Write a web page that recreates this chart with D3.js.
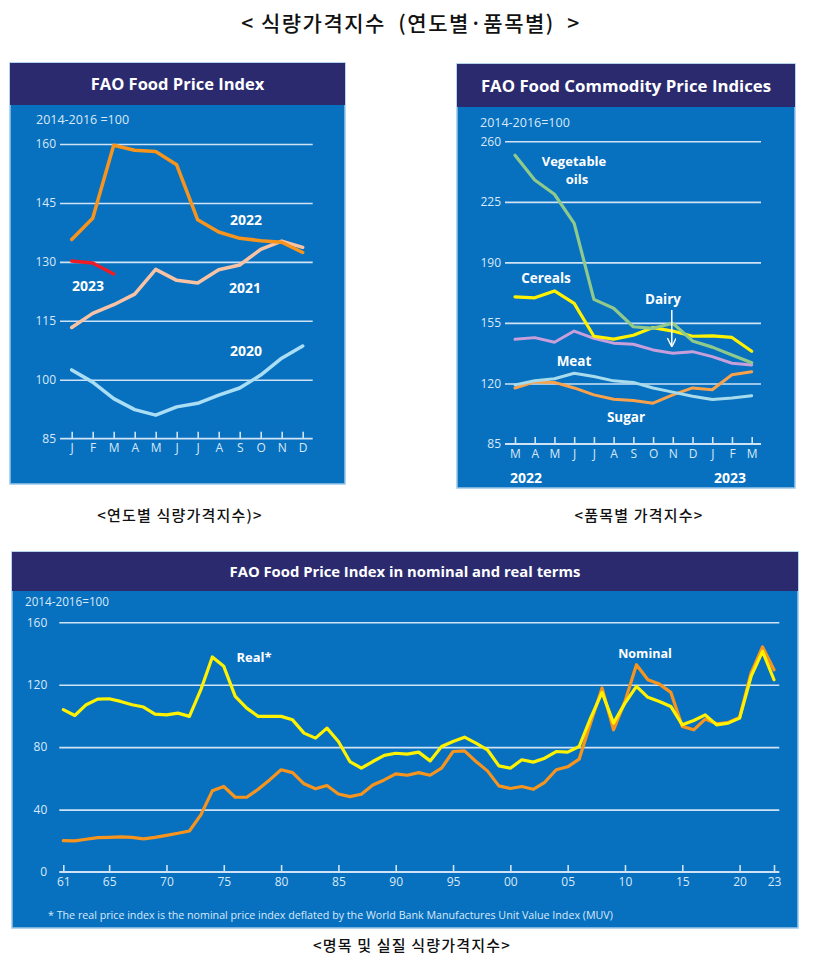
<!DOCTYPE html>
<html><head><meta charset="utf-8">
<script src="https://cdn.jsdelivr.net/npm/d3@7"></script>
<style>body{margin:0;background:#fff}svg{display:block}</style>
</head><body>
<svg id="c" width="819" height="969"></svg>
<script>
// ---------- Data ----------
const monthsA = ["J","F","M","A","M2","J2","J3","A2","S","O","N","D"];
const monthLabelsA = ["J","F","M","A","M","J","J","A","S","O","N","D"];
const y2020 = [102.5,99.4,95.2,92.4,91.0,93.1,94.0,96.1,97.9,101.2,105.5,108.6];
const y2021 = [113.3,116.9,119.1,121.8,128.1,125.3,124.6,128.0,129.2,133.2,135.3,133.7];
const y2022 = [135.7,141.1,159.7,158.4,158.1,154.7,140.7,137.6,136.0,135.4,135.0,132.4];
const y2023 = [130.2,129.7,126.9];
const ticksA = [85,100,115,130,145,160];

const monthsB = ["M","A","M2","J","J2","A2","S","O","N","D","J3","F","M3"];
const monthLabelsB = ["M","A","M","J","J","A","S","O","N","D","J","F","M"];
const vegOils = [252.0,237.6,229.4,212.6,168.6,163.5,152.8,151.9,154.8,144.6,141.0,136.5,132.0];
const cereals = [170.1,169.5,173.5,166.3,147.3,145.6,147.9,152.3,150.3,147.3,147.5,146.6,138.6];
const dairy   = [145.5,146.5,143.8,150.3,146.1,143.3,142.7,139.4,137.5,138.4,135.5,131.7,130.7];
const meat    = [119.2,121.6,122.7,125.9,124.0,121.5,120.6,117.4,115.0,112.6,110.7,111.6,112.9];
const sugar   = [117.4,120.9,120.6,117.4,113.4,110.9,110.1,108.6,113.4,117.4,116.4,125.0,126.8];
const ticksB = [85,120,155,190,225,260];

const years = d3.range(1961, 2024);
const nominal = [20.1,19.9,21.0,22.0,22.2,22.5,22.2,21.2,22.2,23.5,24.8,26.3,36.6,52.0,54.8,47.9,47.9,53.0,59.0,65.5,
  63.7,56.5,53.3,55.4,50.0,48.3,49.8,55.8,59.0,62.9,62.0,63.7,62.0,66.5,77.2,77.6,70.8,64.8,55.2,53.5,
  54.8,53.0,57.5,65.5,67.4,72.3,95.4,117.9,91.1,109.3,132.8,123.2,120.4,115.1,93.3,91.1,98.0,95.0,95.8,99.0,
  127.5,144.2,129.6];
const real = [104.0,100.3,107.2,110.8,111.0,109.3,107.2,105.7,101.2,100.7,101.8,99.7,116.8,137.8,131.8,112.5,105.0,99.7,99.7,99.7,
  97.5,89.0,85.8,92.2,83.6,70.8,66.5,70.8,74.7,76.1,75.5,76.8,71.2,80.4,83.6,86.4,82.6,78.3,68.0,66.5,
  71.9,70.4,72.9,77.2,76.8,80.4,98.6,115.1,95.4,108.2,118.9,111.9,109.3,106.1,94.3,97.1,100.7,94.3,95.4,98.6,
  125.3,141.4,123.2];
const ticksC = [0,40,80,120,160];
const yearTicks = [1961,1965,1970,1975,1980,1985,1990,1995,2000,2005,2010,2015,2020,2023];

// ---------- Styles ----------
const BG = "#0770bf", HEAD = "#2b2a6f", GRID = "#cfe3f5", TXT = "#d9e9f7";
const FONT = "'Open Sans', 'Noto Sans', sans-serif";
const KFONT = "'Noto Sans CJK KR', sans-serif";
const svg = d3.select("#c");

svg.append("text").attr("x", 411).attr("y", 31).attr("text-anchor","middle")
  .attr("font-family", KFONT).attr("font-size", 21).attr("font-weight", 500).attr("fill","#111")
  .attr("letter-spacing", 1.5).attr("xml:space", "preserve")
  .text("< 식량가격지수  (연도별·품목별)  >");

function panel(x, y, w, h, hh, title, fs) {
  svg.append("rect").attr("x", x).attr("y", y).attr("width", w).attr("height", h)
    .attr("fill", BG).attr("stroke", "#9cc7ea").attr("stroke-width", 1.5);
  svg.append("rect").attr("x", x).attr("y", y).attr("width", w).attr("height", hh).attr("fill", HEAD);
  svg.append("text").attr("x", x + w / 2).attr("y", y + hh / 2 + fs * 0.36).attr("text-anchor", "middle")
    .attr("font-family", FONT).attr("font-weight", 700).attr("font-size", fs).attr("fill", "#fff").text(title);
}

function grid(yScale, ticks, x0, x1, labelX, fs) {
  const g = svg.append("g");
  g.append("g").attr("transform", `translate(${x1},0)`)
    .call(d3.axisLeft(yScale).tickValues(ticks).tickSize(x1 - x0).tickPadding(labelX))
    .call(s => s.select(".domain").remove())
    .call(s => s.selectAll("line").attr("stroke", GRID).attr("stroke-width", 1.6))
    .call(s => s.selectAll("text").attr("fill", TXT).attr("font-family", FONT).attr("font-size", fs));
}

function bottomAxis(xScale, vals, fmt, yPos, x0, x1, fs) {
  const g = svg.append("g").attr("transform", `translate(0,${yPos})`);
  g.call(d3.axisTop(xScale).tickValues(vals).tickSize(7).tickFormat(""))
    .call(s => s.select(".domain").remove())
    .call(s => s.selectAll("line").attr("stroke", GRID).attr("stroke-width", 1.6));
  g.append("line").attr("x1", x0).attr("x2", x1).attr("stroke", GRID).attr("stroke-width", 1.8);
  const g2 = svg.append("g").attr("transform", `translate(0,${yPos})`);
  g2.call(d3.axisBottom(xScale).tickValues(vals).tickSize(0).tickPadding(5).tickFormat(fmt))
    .call(s => s.select(".domain").remove())
    .call(s => s.selectAll("text").attr("fill", TXT).attr("font-family", FONT).attr("font-size", fs));
}

function label(x, y, t, fs, anchor) {
  svg.append("text").attr("x", x).attr("y", y).attr("text-anchor", anchor || "middle")
    .attr("font-family", FONT).attr("font-weight", 700).attr("font-size", fs).attr("fill", "#fff").text(t);
}
function small(x, y, t, fs) {
  svg.append("text").attr("x", x).attr("y", y).attr("font-family", FONT)
    .attr("font-size", fs).attr("fill", TXT).text(t);
}
function drawLine(xs, ys, xScale, yScale, color, w) {
  const line = d3.line().x((d, i) => xScale(xs[i])).y(d => yScale(d)).curve(d3.curveLinear);
  svg.append("path").datum(ys).attr("d", line).attr("fill", "none")
    .attr("stroke", color).attr("stroke-width", w).attr("stroke-linejoin", "round").attr("stroke-linecap", "round");
}

// ---------- Panel A ----------
panel(10, 63, 335, 421, 42, "FAO Food Price Index", 16.5);
const xA = d3.scalePoint().domain(monthsA).range([71.7, 302.7]);
const yA = d3.scaleLinear().domain([85, 160]).range([438.7, 144]);
grid(yA, ticksA.slice(1), 60, 312.7, 4, 12);
svg.append("text").attr("x", 56).attr("y", yA(85) + 4).attr("text-anchor", "end")
  .attr("font-family", FONT).attr("font-size", 12).attr("fill", TXT).text("85");
bottomAxis(xA, monthsA, (d, i) => monthLabelsA[i], yA(85), 60, 312.7, 12);
small(36, 124, "2014-2016 =100", 12.5);
drawLine(monthsA, y2020, xA, yA, "#a9def5", 3.5);
drawLine(monthsA, y2021, xA, yA, "#f8c3a5", 3.5);
drawLine(monthsA, y2022, xA, yA, "#f7941d", 3.5);
drawLine(monthsA.slice(0, 3), y2023, xA, yA, "#ee1c25", 3.5);
label(246, 225, "2022", 14);
label(88, 291, "2023", 14);
label(245, 293, "2021", 14);
label(246, 356, "2020", 14);

// ---------- Panel B ----------
panel(457, 64, 338, 424, 43, "FAO Food Commodity Price Indices", 16.8);
const xB = d3.scalePoint().domain(monthsB).range([515, 751.7]);
const yB = d3.scaleLinear().domain([85, 260]).range([444, 141.3]);
grid(yB, ticksB.slice(1), 505, 761, 4, 12);
svg.append("text").attr("x", 501).attr("y", yB(85) + 4).attr("text-anchor", "end")
  .attr("font-family", FONT).attr("font-size", 12).attr("fill", TXT).text("85");
bottomAxis(xB, monthsB, (d, i) => monthLabelsB[i], yB(85), 505, 761, 12);
small(480, 127, "2014-2016=100", 12.5);
drawLine(monthsB, sugar, xB, yB, "#f9a24b", 3);
drawLine(monthsB, meat, xB, yB, "#a8dcec", 3);
drawLine(monthsB, dairy, xB, yB, "#c89fdb", 3);
drawLine(monthsB, cereals, xB, yB, "#fff200", 3.2);
drawLine(monthsB, vegOils, xB, yB, "#8fca8c", 3.2);
label(526, 483, "2022", 14);
label(730, 483, "2023", 14);
label(574, 166, "Vegetable", 13);
label(577, 184, "oils", 13);
label(546, 283, "Cereals", 13.5);
label(663, 304, "Dairy", 13.5);
label(574, 366, "Meat", 13.5);
label(626, 422, "Sugar", 13.5);
svg.append("defs").append("marker").attr("id", "ah").attr("viewBox", "0 0 10 10").attr("refX", 9).attr("refY", 5)
  .attr("markerWidth", 6).attr("markerHeight", 6).attr("orient", "auto")
  .append("path").attr("d", "M0,0 L10,5 L0,10").attr("fill", "none").attr("stroke", "#fff").attr("stroke-width", 1.5);
svg.append("line").attr("x1", xB("N") - 1).attr("x2", xB("N") - 1).attr("y1", 310).attr("y2", 346)
  .attr("stroke", "#fff").attr("stroke-width", 1.5).attr("marker-end", "url(#ah)");

// ---------- Panel C ----------
panel(12, 552, 786, 376, 39, "FAO Food Price Index in nominal and real terms", 14.8);
const xC = d3.scaleLinear().domain([1961, 2023]).range([63.3, 774]);
const yC = d3.scaleLinear().domain([0, 160]).range([872, 622.3]);
grid(yC, ticksC.slice(1), 59.3, 779.3, 12, 12);
svg.append("text").attr("x", 47).attr("y", yC(0) + 4).attr("text-anchor", "end")
  .attr("font-family", FONT).attr("font-size", 12).attr("fill", TXT).text("0");
bottomAxis(xC, yearTicks, d => String(d).slice(2), yC(0), 59.3, 779.3, 12);
small(25, 606, "2014-2016=100", 11.7);
drawLine(years, nominal, xC, yC, "#f7941d", 3.2);
drawLine(years, real, xC, yC, "#fff200", 3.2);
label(254, 662, "Real*", 13);
label(645, 658, "Nominal", 12.5);
small(48, 919, "* The real price index is the nominal price index deflated by the World Bank Manufactures Unit Value Index (MUV)", 10.7);

// ---------- Captions ----------
function cap(x, y, t) {
  svg.append("text").attr("x", x).attr("y", y).attr("text-anchor", "middle")
    .attr("font-family", KFONT).attr("font-size", 15).attr("font-weight", 500).attr("letter-spacing", 1.2)
    .attr("fill", "#111").attr("xml:space", "preserve").text(t);
}
cap(180, 521, "<연도별 식량가격지수)>");
cap(639, 521, "<품목별 가격지수>");
cap(412, 951, "<명목 및 실질 식량가격지수>");
</script>
</body></html>
